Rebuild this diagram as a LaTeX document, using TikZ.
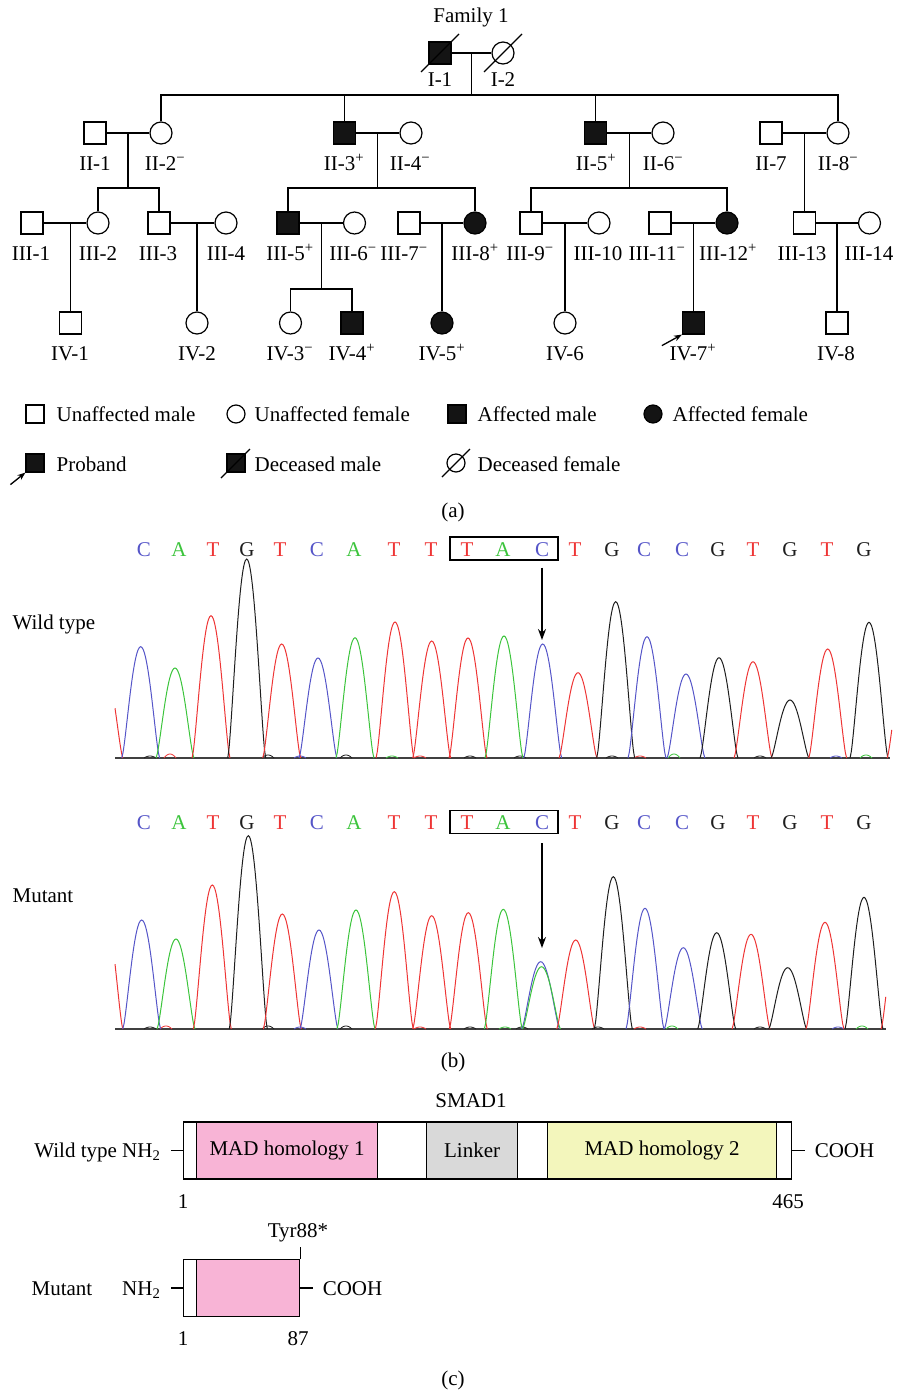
\documentclass[tikz,border=0pt]{standalone}
\usepackage{fontspec}
\setmainfont{Liberation Serif}
\usetikzlibrary{arrows.meta,calc}

\definecolor{pkC}{HTML}{F8B4D6}
\definecolor{grC}{HTML}{D9D9D9}
\definecolor{ylC}{HTML}{F3F6BC}
\definecolor{trB}{HTML}{5555C8}
\definecolor{trG}{HTML}{3CC43C}
\definecolor{trR}{HTML}{EE3535}
\definecolor{trK}{HTML}{1E1E1E}

\newcommand\fs{\fontsize{21}{25}\selectfont}
\newcommand\up[1]{\textsuperscript{#1}}
\newcommand\mn{\up{−}}
\newcommand\pl{\up{+}}

% one chromatogram trace peak: colour, centre x, apex y, baseline y, parameter range
\newcommand\pk[5]{%
  \draw[#1, line width=1pt] plot[variable=\u, domain=#5, samples=31, smooth]
    ({#2+19*\u}, {#4-(#4-#3)*max(0,1-\u*\u)*sqrt(max(0,1-\u*\u))});}
% small baseline ripple
\newcommand\nz[4]{%
  \draw[#1, line width=0.8pt] plot[variable=\u, domain=-1:1, samples=11, smooth]
    ({#2+6*\u}, {#4-#3*max(0,1-\u*\u)});}

\begin{document}
\begin{tikzpicture}[x=1pt, y=-1pt, line width=1.2pt,
  every node/.style={font=\fs, inner sep=0pt},
  male/.style={draw, rectangle, minimum size=22pt, line width=1.2pt},
  female/.style={draw, circle, minimum size=22pt, line width=1.2pt},
  aff/.style={fill=black!92},
  small/.style={minimum size=18pt},
  lab/.style={anchor=base},
  dom/.style={draw, line width=1.2pt, minimum height=57pt, anchor=west},
  seqbox/.style={draw, line width=1.2pt, minimum width=108pt, minimum height=23pt},
  pointer/.style={-{Stealth[length=11pt,width=8pt]}, line width=1.3pt},
  proarrow/.style={-{Stealth[length=8pt,width=6pt]}, line width=1.3pt}]
\useasboundingbox (0,0) rectangle (897,1390);

%================ (a) pedigree ================
\node (fam) at (471,17) {Family 1};

% generation I
\node[male, aff] (I1) at (440,53) {};
\node[female] (I2) at (503,53) {};
\draw ($(I1)+(-19,19)$) -- ($(I1)+(19,-19)$);
\draw ($(I2)+(-19,19)$) -- ($(I2)+(19,-19)$);
\node[lab] (lI1) at (440,86) {I-1};
\node[lab] (lI2) at (503,86) {I-2};

% generation II
\node[male] (II1) at (95,133) {};
\node[female] (II2) at (161,133) {};
\node[male, aff] (II3) at (344.5,133) {};
\node[female] (II4) at (411,133) {};
\node[male, aff] (II5) at (595.5,133) {};
\node[female] (II6) at (663,133) {};
\node[male] (II7) at (771,133) {};
\node[female] (II8) at (838,133) {};
\node[lab] (lII1) at (95,170) {II-1};
\node[lab] (lII2) at (165,170) {II-2\mn};
\node[lab] (lII3) at (344,170) {II-3\pl};
\node[lab] (lII4) at (410,170) {II-4\mn};
\node[lab] (lII5) at (596,170) {II-5\pl};
\node[lab] (lII6) at (663,170) {II-6\mn};
\node[lab] (lII7) at (771,170) {II-7};
\node[lab] (lII8) at (838,170) {II-8\mn};

% generation III
\node[male] (III1) at (32,223) {};
\node[female] (III2) at (98,223) {};
\node[male] (III3) at (159,223) {};
\node[female] (III4) at (226,223) {};
\node[male, aff] (III5) at (288,223) {};
\node[female] (III6) at (354.5,223) {};
\node[male] (III7) at (409,223) {};
\node[female, aff] (III8) at (475,223) {};
\node[male] (III9) at (531,223) {};
\node[female] (III10) at (599,223) {};
\node[male] (III11) at (660,223) {};
\node[female, aff] (III12) at (727,223) {};
\node[male] (III13) at (804.5,223) {};
\node[female] (III14) at (869.5,223) {};
\node[lab] (lIII1) at (31,260) {III-1};
\node[lab] (lIII2) at (98,260) {III-2};
\node[lab] (lIII3) at (158,260) {III-3};
\node[lab] (lIII4) at (226,260) {III-4};
\node[lab] (lIII5) at (290,260) {III-5\pl};
\node[lab] (lIII6) at (353,260) {III-6\mn};
\node[lab] (lIII7) at (404,260) {III-7\mn};
\node[lab] (lIII8) at (475,260) {III-8\pl};
\node[lab] (lIII9) at (530,260) {III-9\mn};
\node[lab] (lIII10) at (598,260) {III-10};
\node[lab] (lIII11) at (657,260) {III-11\mn};
\node[lab] (lIII12) at (728,260) {III-12\pl};
\node[lab] (lIII13) at (802,260) {III-13};
\node[lab] (lIII14) at (869,260) {III-14};

% generation IV
\node[male] (IV1) at (70.5,323) {};
\node[female] (IV2) at (197,323) {};
\node[female] (IV3) at (290.5,323) {};
\node[male, aff] (IV4) at (352,323) {};
\node[female, aff] (IV5) at (442,323) {};
\node[female] (IV6) at (565,323) {};
\node[male, aff] (IV7) at (693.5,323) {};
\node[male] (IV8) at (837,323) {};
\node[lab] (lIV1) at (70,360) {IV-1};
\node[lab] (lIV2) at (197,360) {IV-2};
\node[lab] (lIV3) at (290,360) {IV-3\mn};
\node[lab] (lIV4) at (352,360) {IV-4\pl};
\node[lab] (lIV5) at (442,360) {IV-5\pl};
\node[lab] (lIV6) at (565,360) {IV-6};
\node[lab] (lIV7) at (693,360) {IV-7\pl};
\node[lab] (lIV8) at (836,360) {IV-8};
\draw[proarrow] ($(IV7.south west)+(-20,11)$) -- (IV7.south west);

% marriages and descent: I
\draw (I1) -- (I2);
\coordinate (m1) at ($(I1.east)!0.5!(I2.west)$);
\coordinate (s1) at ($(m1)+(0,42)$);
\draw (m1) -- (s1);
\draw (II2.north) |- (s1) -| (II8.north);
\draw (II3.north) -- (II3.north |- s1);
\draw (II5.north) -- (II5.north |- s1);

% marriages and descent: II
\draw (II1) -- (II2);
\draw (II3) -- (II4);
\draw (II5) -- (II6);
\draw (II7) -- (II8);
\coordinate (m21) at ($(II1.east)!0.5!(II2.west)$);
\coordinate (m22) at ($(II3.east)!0.5!(II4.west)$);
\coordinate (m23) at ($(II5.east)!0.5!(II6.west)$);
\coordinate (m24) at ($(II7.east)!0.5!(II8.west)$);
\coordinate (s21) at ($(m21)+(0,55)$);
\coordinate (s22) at ($(m22)+(0,55)$);
\coordinate (s23) at ($(m23)+(0,55)$);
\draw (m21) -- (s21);
\draw (III2.north) |- (s21) -| (III3.north);
\draw (m22) -- (s22);
\draw (III5.north) |- (s22) -| (III8.north);
\draw (m23) -- (s23);
\draw (III9.north) |- (s23) -| (III12.north);
\draw (m24) -- (m24 |- III13.north);

% marriages and descent: III
\draw (III1) -- (III2);
\draw (III3) -- (III4);
\draw (III5) -- (III6);
\draw (III7) -- (III8);
\draw (III9) -- (III10);
\draw (III11) -- (III12);
\draw (III13) -- (III14);
\draw (IV1.north) -- (IV1.north |- III1.east);
\draw (IV2.north) -- (IV2.north |- III3.east);
\coordinate (m33) at ($(III5.east)!0.5!(III6.west)$);
\coordinate (s33) at ($(m33)+(0,66)$);
\draw (m33) -- (s33);
\draw (IV3.north) |- (s33) -| (IV4.north);
\coordinate (m34) at ($(III7.east)!0.5!(III8.west)$);
\coordinate (m35) at ($(III9.east)!0.5!(III10.west)$);
\coordinate (m36) at ($(III11.east)!0.5!(III12.west)$);
\coordinate (m37) at ($(III13.east)!0.5!(III14.west)$);
\draw (m34) -- (m34 |- IV5.north);
\draw (m35) -- (m35 |- IV6.north);
\draw (m36) -- (m36 |- IV7.north);
\draw (m37) -- (m37 |- IV8.north);

% legend
\node[male, small] (lg1) at (35,414) {};
\node[anchor=base west] (lt1) at (56,421) {Unaffected male};
\node[female, small] (lg2) at (236,414) {};
\node[anchor=base west] (lt2) at (254,421) {Unaffected female};
\node[male, aff, small] (lg3) at (457,414) {};
\node[anchor=base west] (lt3) at (477,421) {Affected male};
\node[female, aff, small] (lg4) at (653,414) {};
\node[anchor=base west] (lt4) at (672,421) {Affected female};
\node[male, aff, small] (lg5) at (35,463) {};
\draw[proarrow] ($(lg5.south west)+(-15,12)$) -- (lg5.south west);
\node[anchor=base west] (lt5) at (56,471) {Proband};
\node[male, aff, small] (lg6) at (236,463) {};
\draw ($(lg6)+(-15,15)$) -- ($(lg6)+(14,-14)$);
\node[anchor=base west] (lt6) at (254,471) {Deceased male};
\node[female, small] (lg7) at (456,463) {};
\draw ($(lg7)+(-14,14)$) -- ($(lg7)+(14,-14)$);
\node[anchor=base west] (lt7) at (477,471) {Deceased female};

\node[lab] (capa) at (453,517) {(a)};

%================ (b) sequencing traces ================
\node[anchor=base west] (wtlab) at (12,629) {Wild type};
\node[anchor=base west] (mutlab) at (12,902) {Mutant};

% base calls
\foreach \x/\l/\c [count=\i] in {144/C/trB,179/A/trG,213/T/trR,247/G/trK,280/T/trR,
   317/C/trB,354/A/trG,394/T/trR,431/T/trR,467/T/trR,503/A/trG,542/C/trB,575/T/trR,
   612/G/trK,644/C/trB,682/C/trB,718/G/trK,753/T/trR,790/G/trK,827/T/trR,864/G/trK}{
  \node[lab, text=\c] (wb\i) at (\x,556) {\l};
  \node[lab, text=\c] (mb\i) at (\x,829) {\l};
}
\node[seqbox] (tac1) at (504,548.5) {};
\node[seqbox] (tac2) at (504,822) {};
\coordinate (tip1) at (542,640);
\coordinate (tip2) at (542,948);
\draw[pointer] (tip1 |- tac1.south) ++(0,7) -- (tip1);
\draw[pointer] (tip2 |- tac2.south) ++(0,9) -- (tip2);

% wild-type trace
\draw[black!75, line width=1.5pt] (115,758) -- (890,758);
\nz{trR}{170}{4}{758}\nz{trK}{268}{3}{758}\nz{trK}{346}{3}{758}\nz{trB}{300}{2}{758}
\nz{trG}{392}{2}{758}\nz{trK}{470}{2}{758}\nz{trG}{674}{4}{758}\nz{trK}{612}{2}{758}
\nz{trB}{836}{2}{758}\nz{trG}{866}{3}{758}\nz{trK}{150}{2}{758}\nz{trR}{420}{2}{758}
\nz{trK}{520}{2}{758}\nz{trR}{640}{2}{758}\nz{trK}{760}{2}{758}
\pk{trR}{104}{666}{758}{0.58:1}
\pk{trB}{140.7}{646.7}{758}{-1:1}
\pk{trG}{175}{668}{758}{-1:1}
\pk{trR}{211}{615.7}{758}{-1:1}
\pk{trK}{246.7}{559}{758}{-1:1}
\pk{trR}{281.7}{644}{758}{-1:1}
\pk{trB}{318}{658}{758}{-1:1}
\pk{trG}{355}{637.7}{758}{-1:1}
\pk{trR}{395}{622}{758}{-1:1}
\pk{trR}{431.7}{641}{758}{-1:1}
\pk{trR}{468}{638}{758}{-1:1}
\pk{trG}{504}{636}{758}{-1:1}
\pk{trB}{542.7}{644}{758}{-1:1}
\pk{trR}{578}{672.7}{758}{-1:1}
\pk{trK}{615.7}{601.7}{758}{-1:1}
\pk{trB}{647}{636.7}{758}{-1:1}
\pk{trB}{686}{674}{758}{-1:1}
\pk{trK}{719}{657.7}{758}{-1:1}
\pk{trR}{753}{661.7}{758}{-1:1}
\pk{trK}{790}{700}{758}{-1:1}
\pk{trR}{827.7}{649}{758}{-1:1}
\pk{trK}{869}{622.3}{758}{-1:1}
\pk{trR}{906}{661}{758}{-1:-0.75}

% mutant trace
\draw[black!75, line width=1.5pt] (115,1029) -- (886,1029);
\nz{trR}{166}{3}{1029}\nz{trK}{268}{3}{1029}\nz{trK}{346}{3}{1029}\nz{trB}{300}{2}{1029}
\nz{trG}{505}{2}{1029}\nz{trK}{470}{2}{1029}\nz{trG}{672}{3}{1029}\nz{trK}{598}{2}{1029}
\nz{trB}{838}{2}{1029}\nz{trG}{862}{3}{1029}\nz{trK}{150}{2}{1029}\nz{trR}{420}{2}{1029}
\nz{trK}{522}{2}{1029}\nz{trR}{640}{2}{1029}\nz{trK}{760}{2}{1029}
\pk{trR}{104}{909}{1029}{0.58:1}
\pk{trB}{141.7}{920}{1029}{-1:1}
\pk{trG}{176}{939}{1029}{-1:1}
\pk{trR}{212.3}{885}{1029}{-1:1}
\pk{trK}{248.3}{835.7}{1029}{-1:1}
\pk{trR}{282.3}{914}{1029}{-1:1}
\pk{trB}{319}{930}{1029}{-1:1}
\pk{trG}{356}{910}{1029}{-1:1}
\pk{trR}{394.3}{891.7}{1029}{-1:1}
\pk{trR}{431.7}{915.7}{1029}{-1:1}
\pk{trR}{468.3}{912.7}{1029}{-1:1}
\pk{trG}{503.3}{909.3}{1029}{-1:1}
\pk{trB}{540.7}{961.7}{1029}{-1:1}
\pk{trG}{541.5}{966.7}{1029}{-1:1}
\pk{trR}{575.7}{940}{1029}{-1:1}
\pk{trK}{613.3}{876.7}{1029}{-1:1}
\pk{trB}{645}{908.3}{1029}{-1:1}
\pk{trB}{683.3}{947.7}{1029}{-1:1}
\pk{trK}{716.7}{932.7}{1029}{-1:1}
\pk{trR}{751}{934.3}{1029}{-1:1}
\pk{trK}{787.7}{967.7}{1029}{-1:1}
\pk{trR}{825}{922.3}{1029}{-1:1}
\pk{trK}{864}{897.3}{1029}{-1:1}
\pk{trR}{900}{918}{1029}{-1:-0.75}

\node[lab] (capb) at (453,1067) {(b)};

%================ (c) SMAD1 domains ================
\node[lab] (smad) at (471,1107) {SMAD1};
\node[dom, minimum width=608pt] (wt) at (183,1150.5) {};
\node[dom, fill=pkC, minimum width=181pt] (mh1) at (196,1150.5) {MAD homology 1};
\node[dom, fill=grC, minimum width=91pt] (lnk) at (426,1150.5) {Linker};
\node[dom, fill=ylC, minimum width=229pt] (mh2) at (547,1150.5) {MAD homology 2};
\draw (wt.west) -- ++(-12,0) coordinate (wtn);
\draw (wt.east) -- ++(13,0) coordinate (wtc);
\node[anchor=base east] (wtnl) at ($(wtn)+(-10,7)$) {Wild type NH\textsubscript{2}};
\node[anchor=base west] (wtcl) at ($(wtc)+(9,7)$) {COOH};
\node[lab] (wt1) at (183,1208) {1};
\node[lab] (wt465) at (788,1208) {465};

\node[dom, minimum width=116pt] (mt) at (183,1288) {};
\node[dom, fill=pkC, minimum width=103pt] (mtp) at (196,1288) {};
\draw (mt.north east) -- ++(0,-12) coordinate (stop);
\node[lab] (tyr) at (298,1237) {Tyr88*};
\draw (mt.west) -- ++(-12,0) coordinate (mtn);
\draw (mt.east) -- ++(13,0) coordinate (mtc);
\node[anchor=base east] (mtnl) at ($(mtn)+(-10,7)$) {NH\textsubscript{2}};
\node[anchor=base west] (mtlab) at (31,1295) {Mutant};
\node[anchor=base west] (mtcl) at ($(mtc)+(9,7)$) {COOH};
\node[lab] (mt1) at (183,1345) {1};
\node[lab] (mt87) at (298,1345) {87};

\node[lab] (capc) at (453,1385) {(c)};
\end{tikzpicture}
\end{document}
